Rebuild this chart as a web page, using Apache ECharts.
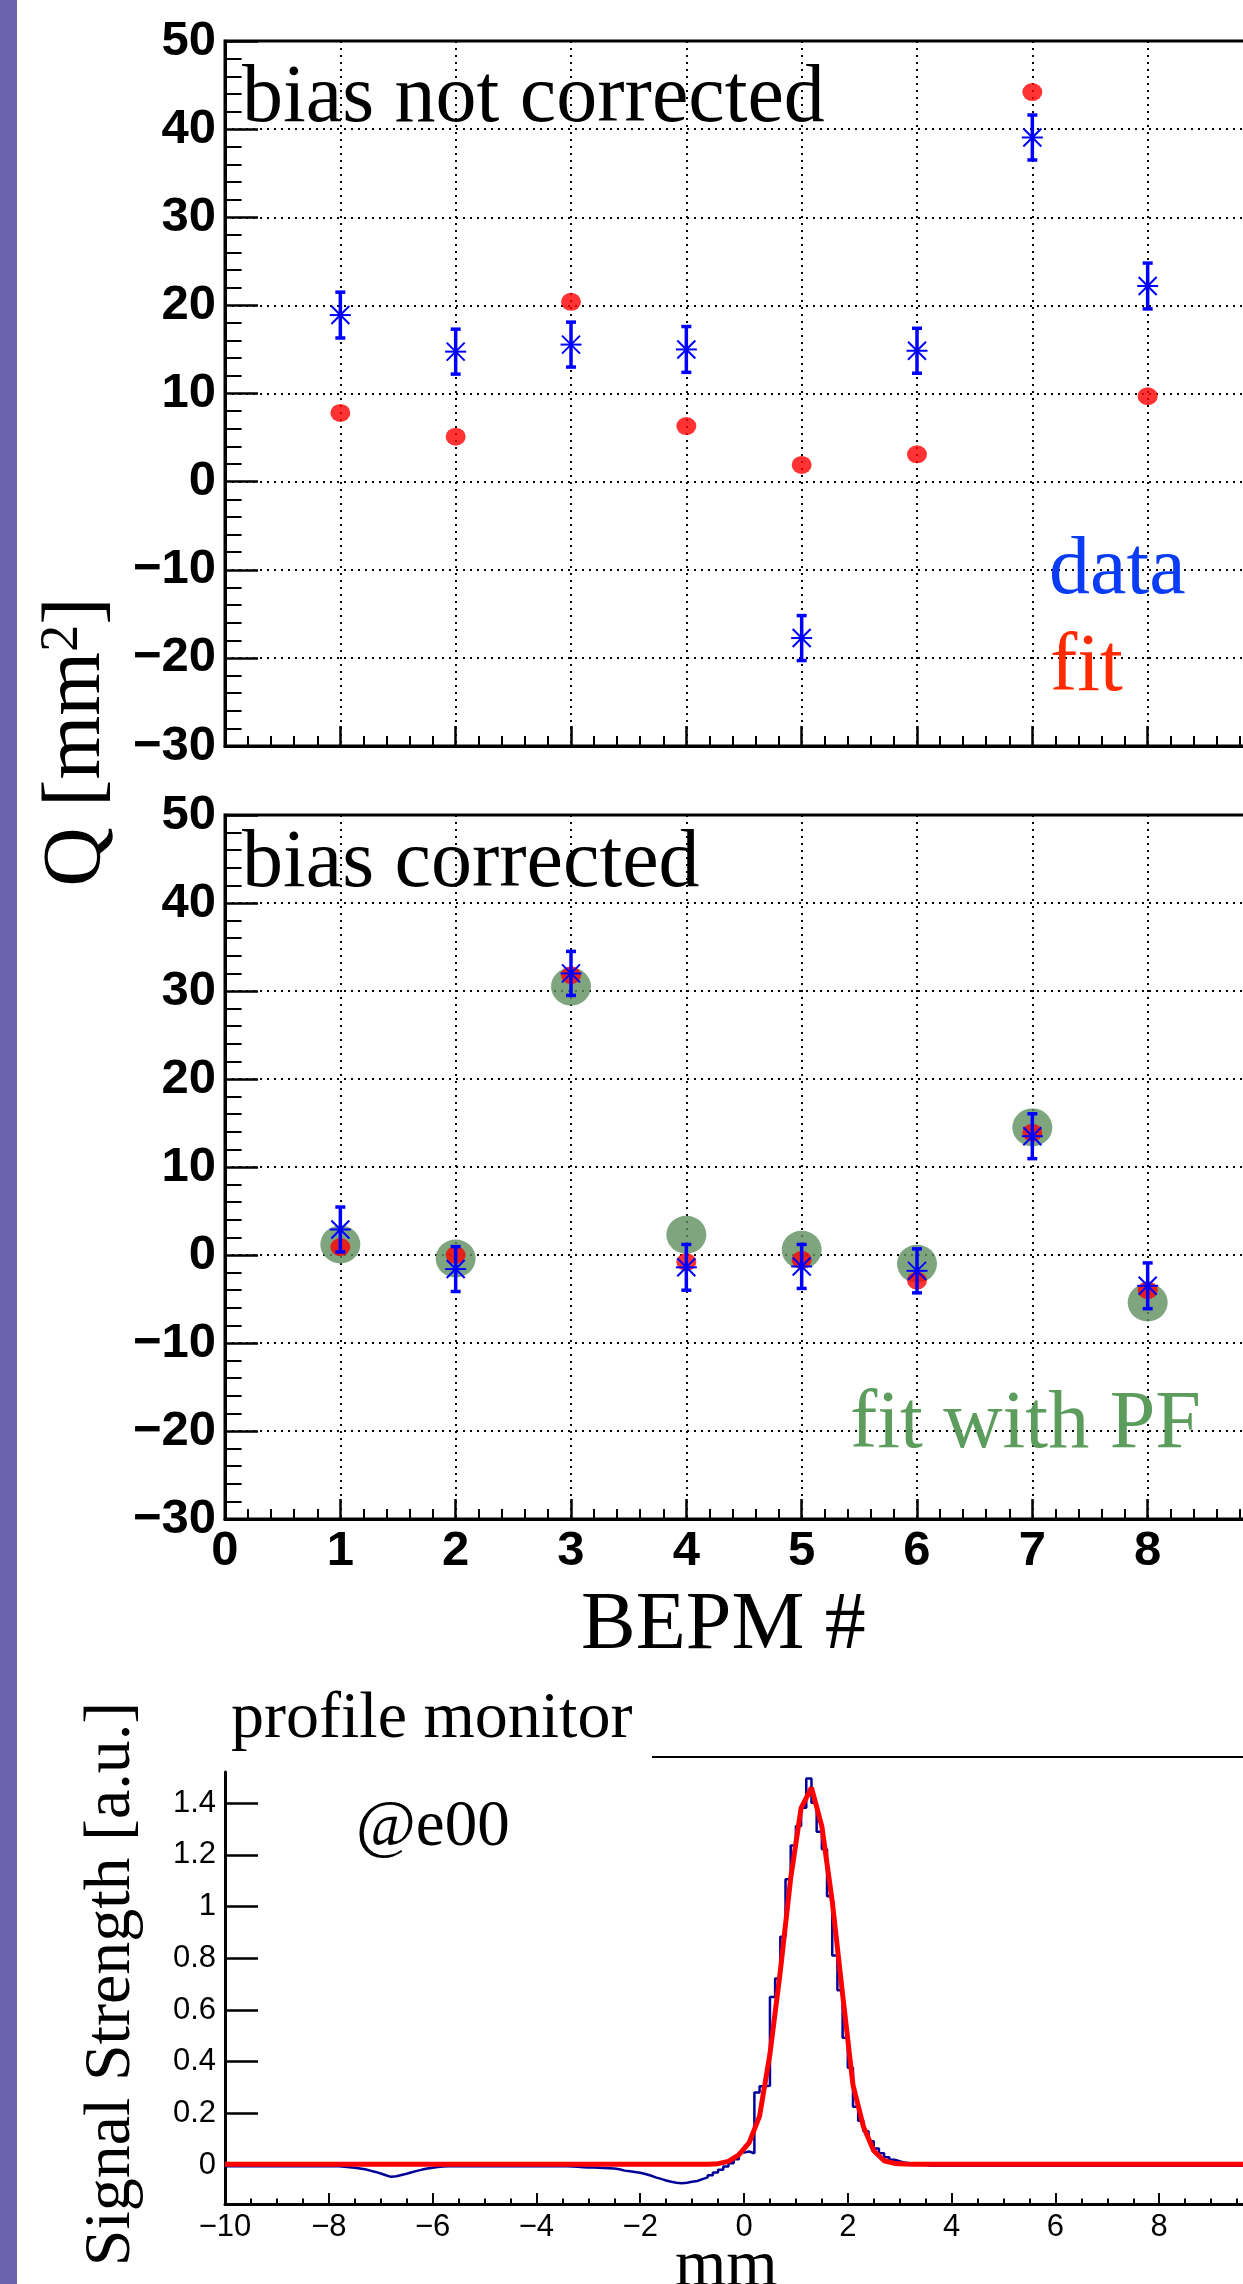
<!DOCTYPE html>
<html>
<head>
<meta charset="utf-8">
<script src="https://cdn.jsdelivr.net/npm/echarts@6/dist/echarts.min.js"></script>
<style>
html,body{margin:0;padding:0;background:#fff;}
#chart{width:1243px;height:2284px;}
</style>
</head>
<body>
<div id="chart"></div>
<script>
// ---------------- data ----------------
const bepm = [1, 2, 3, 4, 5, 6, 7, 8];
// panel 1: bias not corrected
const dataNC = [18.9, 14.75, 15.55, 15.0, -17.75, 14.85, 39.05, 22.2];
const errNC  = [2.6, 2.55, 2.55, 2.6, 2.55, 2.55, 2.55, 2.6];
const fitNC  = [7.8, 5.1, 20.4, 6.3, 1.9, 3.1, 44.2, 9.7];
// panel 2: bias corrected
const dataC  = [2.9, -1.6, 32.0, -1.4, -1.3, -1.8, 13.5, -3.5];
const errC   = [2.55, 2.55, 2.5, 2.6, 2.5, 2.5, 2.55, 2.6];
const fitC   = [0.9, 0.0, 31.8, -0.8, -0.55, -2.9, 13.9, -4.0];
const fitPF  = [1.2, -0.4, 30.5, 2.3, 0.6, -1.0, 14.5, -5.4];
// profile monitor histogram: 200 bins of 0.1 mm from -10 mm
const histStart = -10;
const histWidth = 0.1;
const histValues = [
  -0.004,-0.004,-0.004,-0.004,-0.004,-0.004,-0.004,-0.004,-0.004,-0.004,
  -0.004,-0.004,-0.004,-0.004,-0.004,-0.004,-0.004,-0.004,-0.004,-0.004,
  -0.004,-0.004,-0.006,-0.008,-0.010,-0.013,-0.016,-0.021,-0.026,-0.032,
  -0.039,-0.045,-0.043,-0.038,-0.033,-0.027,-0.022,-0.017,-0.013,-0.010,
  -0.007,-0.005,-0.004,-0.004,-0.004,-0.004,-0.004,-0.004,-0.004,-0.004,
  -0.004,-0.004,-0.004,-0.004,-0.004,-0.004,-0.004,-0.004,-0.004,-0.004,
  -0.004,-0.004,-0.004,-0.004,-0.004,-0.004,-0.005,-0.006,-0.008,-0.009,
  -0.009,-0.010,-0.011,-0.012,-0.013,-0.016,-0.021,-0.023,-0.026,-0.029,
  -0.034,-0.040,-0.047,-0.053,-0.059,-0.064,-0.068,-0.070,-0.068,-0.064,
  -0.061,-0.054,-0.047,-0.039,-0.028,-0.018,-0.005, 0.008, 0.023, 0.049,
   0.053, 0.046, 0.281, 0.305, 0.307, 0.650, 0.722, 0.883, 1.105, 1.236,
   1.311, 1.382, 1.495, 1.401, 1.289, 1.221, 1.040, 0.811, 0.676, 0.493,
   0.377, 0.226, 0.172, 0.131, 0.093, 0.065, 0.046, 0.031, 0.021, 0.015,
   0.010, 0.007, 0.004, 0.002, 0.001,-0.002,-0.002,-0.002,-0.002,-0.002,
  -0.002,-0.002,-0.002,-0.002,-0.002,-0.002,-0.002,-0.002,-0.002,-0.002,
  -0.002,-0.002,-0.002,-0.002,-0.002,-0.002,-0.002,-0.002,-0.002,-0.002,
  -0.002,-0.002,-0.002,-0.002,-0.002,-0.002,-0.002,-0.002,-0.002,-0.002,
  -0.002,-0.002,-0.002,-0.002,-0.002,-0.002,-0.002,-0.002,-0.002,-0.002,
  -0.002,-0.002,-0.002,-0.002,-0.002,-0.002,-0.002,-0.002,-0.002,-0.002,
  -0.002,-0.002,-0.002,-0.002,-0.002,-0.002,-0.002,-0.002,-0.002,-0.002
];
// gaussian fit curve sample points
const fitX = [-10, -0.7, -0.5, -0.3, -0.1, 0.1, 0.3, 0.5, 0.7, 0.9, 1.1, 1.3, 1.5, 1.7, 1.9, 2.1, 2.3, 2.5, 2.7, 2.9, 3.1, 3.3, 10];
const fitY = [0.004, 0.004, 0.006, 0.015, 0.040, 0.087, 0.19, 0.43, 0.75, 1.11, 1.38, 1.46, 1.31, 1.02, 0.66, 0.31, 0.15, 0.056, 0.017, 0.007, 0.005, 0.004, 0.004];
// tick labels
const profYTicks = [0, 0.2, 0.4, 0.6, 0.8, 1, 1.2, 1.4];
const profYMinorTicks = [];
for (let k = -3; k <= 30; k++) profYMinorTicks.push(Math.round(k * 5) / 100);

// ---------------- chart ----------------
const chart = echarts.init(document.getElementById('chart'), null, {renderer: 'canvas', width: 1243, height: 2284});

const fmt = v => (v < 0 ? '\u2212' + String(Math.round(-v * 1000) / 1000) : String(Math.round(v * 1000) / 1000));
const BLUE = '#0000ff';
const dotted = {type: [2, 5], color: '#000', width: 2};
const boldLbl = {fontFamily: 'Liberation Sans', fontWeight: 'bold', fontSize: 49, color: '#000', formatter: fmt};

function panelX(gi, showLabels) {
  return {
    gridIndex: gi, type: 'value', min: 0, max: 9, interval: 1,
    axisLine: {show: true, onZero: false, lineStyle: {color: '#000', width: 3}},
    axisTick: {show: true, inside: true, length: 20, lineStyle: {color: '#000', width: 2.5}},
    minorTick: {show: true, splitNumber: 5, length: 10, lineStyle: {color: '#000', width: 2}},
    axisLabel: Object.assign({show: showLabels, margin: 8}, boldLbl),
    splitLine: {show: true, lineStyle: dotted}
  };
}
function panelY(gi) {
  return {
    gridIndex: gi, type: 'value', min: -30, max: 50, interval: 10,
    axisLine: {show: true, onZero: false, lineStyle: {color: '#000', width: 3}},
    axisTick: {show: true, inside: true, length: 33, lineStyle: {color: '#000', width: 2.5}},
    minorTick: {show: true, splitNumber: 5, length: 16.6, lineStyle: {color: '#000', width: 2}},
    axisLabel: Object.assign({margin: 9}, boldLbl),
    splitLine: {show: true, lineStyle: dotted}
  };
}

function renderErr(params, api) {
  const x = api.value(0), y = api.value(1), e = api.value(2);
  const c = api.coord([x, y]);
  const t = api.coord([x, y + e]);
  const b = api.coord([x, y - e]);
  const cap = 5, s = 10.5, d = 9;
  const st = w => ({stroke: BLUE, lineWidth: w});
  return {
    type: 'group',
    children: [
      {type: 'line', shape: {x1: c[0], y1: t[1], x2: c[0], y2: b[1]}, style: st(3.5)},
      {type: 'line', shape: {x1: c[0] - cap, y1: t[1], x2: c[0] + cap, y2: t[1]}, style: st(3.5)},
      {type: 'line', shape: {x1: c[0] - cap, y1: b[1], x2: c[0] + cap, y2: b[1]}, style: st(3.5)},
      {type: 'line', shape: {x1: c[0] - s, y1: c[1], x2: c[0] + s, y2: c[1]}, style: st(2)},
      {type: 'line', shape: {x1: c[0] - d, y1: c[1] - d, x2: c[0] + d, y2: c[1] + d}, style: st(2)},
      {type: 'line', shape: {x1: c[0] - d, y1: c[1] + d, x2: c[0] + d, y2: c[1] - d}, style: st(2)}
    ]
  };
}

const histData = histValues.map((v, i) => [histStart + i * histWidth, v]);
histData.push([histStart + histValues.length * histWidth, histValues[histValues.length - 1]]);
const fitData = fitX.map((x, i) => [x, fitY[i]]);

function T(x, y, text, size, fill, extra) {
  return Object.assign({
    type: 'text', x: x, y: y, z: 50,
    style: {text: text, font: size + 'px "Liberation Serif"', fill: fill || '#000',
            align: 'left', verticalAlign: 'middle', textAlign: 'left', textVerticalAlign: 'middle'}
  }, extra || {});
}

const gridBase = {left: 225, width: 1038, outerBoundsMode: 'none', containLabel: false};
const option = {
  animation: false,
  backgroundColor: '#fff',
  grid: [
    Object.assign({top: 41, height: 705, show: true, borderColor: '#000', borderWidth: 3, backgroundColor: 'transparent'}, gridBase),
    Object.assign({top: 815, height: 704, show: true, borderColor: '#000', borderWidth: 3, backgroundColor: 'transparent'}, gridBase),
    Object.assign({top: 1772, height: 432}, gridBase)
  ],
  xAxis: [
    panelX(0, false),
    panelX(1, true),
    {
      gridIndex: 2, type: 'value', min: -10, max: 10, interval: 2,
      axisLine: {show: true, onZero: false, lineStyle: {color: '#000', width: 3}},
      axisTick: {show: true, inside: true, length: 11, lineStyle: {color: '#000', width: 2}},
      minorTick: {show: true, splitNumber: 4, length: 5.5, lineStyle: {color: '#000', width: 2}},
      axisLabel: {fontFamily: 'Liberation Sans', fontSize: 31, color: '#000', margin: 8, formatter: fmt},
      splitLine: {show: false}
    }
  ],
  yAxis: [
    panelY(0),
    panelY(1),
    {
      gridIndex: 2, type: 'value', min: -0.15, max: 1.52,
      axisLine: {show: true, onZero: false, lineStyle: {color: '#000', width: 3}},
      axisTick: {show: true, inside: true, length: 33, customValues: profYTicks, lineStyle: {color: '#000', width: 2.5}},
      axisLabel: {fontFamily: 'Liberation Sans', fontSize: 31, color: '#000', margin: 9, customValues: profYTicks, formatter: fmt},
      splitLine: {show: false}
    },
    {
      gridIndex: 2, type: 'value', min: -0.15, max: 1.52,
      axisLine: {show: false, onZero: false},
      axisTick: {show: true, inside: true, length: 16.6, customValues: profYMinorTicks, lineStyle: {color: '#000', width: 2}},
      axisLabel: {show: false},
      splitLine: {show: false}
    }
  ],
  series: [
    {type: 'scatter', xAxisIndex: 0, yAxisIndex: 0, z: 3, symbol: 'circle', symbolSize: [20, 18],
     itemStyle: {color: '#ff0000'}, data: bepm.map((x, i) => [x, fitNC[i]])},
    {type: 'custom', xAxisIndex: 0, yAxisIndex: 0, z: 4, renderItem: renderErr,
     data: bepm.map((x, i) => [x, dataNC[i], errNC[i]])},
    {type: 'scatter', xAxisIndex: 1, yAxisIndex: 1, z: 2, symbol: 'circle', symbolSize: [40, 38],
     itemStyle: {color: '#5f8f5f'}, data: bepm.map((x, i) => [x, fitPF[i]])},
    {type: 'scatter', xAxisIndex: 1, yAxisIndex: 1, z: 3, symbol: 'circle', symbolSize: [20, 18],
     itemStyle: {color: '#ff0000'}, data: bepm.map((x, i) => [x, fitC[i]])},
    {type: 'custom', xAxisIndex: 1, yAxisIndex: 1, z: 4, renderItem: renderErr,
     data: bepm.map((x, i) => [x, dataC[i], errC[i]])},
    {type: 'line', xAxisIndex: 2, yAxisIndex: 2, z: 3, step: 'end', showSymbol: false, symbol: 'none',
     lineStyle: {color: '#000099', width: 2.5}, data: histData},
    {type: 'line', xAxisIndex: 2, yAxisIndex: 2, z: 4, showSymbol: false, symbol: 'none', smooth: false,
     lineStyle: {color: '#ff0000', width: 5}, data: fitData}
  ],
  graphic: [
    {type: 'rect', z: 60, shape: {x: 0, y: 0, width: 17, height: 2284}, style: {fill: '#6c63ae'}},
    T(242, 99.3, 'bias not corrected', 82),
    T(1049, 571.8, 'data', 82, '#0a3cf5'),
    T(1050, 668.8, 'fit', 82, '#ff2a00'),
    T(242, 864.3, 'bias corrected', 82),
    T(850, 1425.8, 'fit with PF', 82, '#5c9c5c'),
    T(581, 1626.3, 'BEPM #', 82),
    T(231, 1719.4, 'profile monitor', 66),
    T(356, 1827.5, '@e00', 65),
    T(675, 2267.7, 'mm', 66),
    {type: 'line', z: 50, shape: {x1: 652, y1: 1757, x2: 1243, y2: 1757}, style: {stroke: '#000', lineWidth: 2}},
    {type: 'text', x: 111.4, y: 1984, rotation: Math.PI / 2, z: 50,
     style: {text: 'Signal Strength [a.u.]', font: '66px "Liberation Serif"', fill: '#000',
             align: 'center', verticalAlign: 'middle', textAlign: 'center', textVerticalAlign: 'middle'}},
    {type: 'text', x: 77.3, y: 742, rotation: Math.PI / 2, z: 50,
     style: {text: '{n|Q [mm}{s|2}{n|]}', fill: '#000',
             rich: {n: {font: '82px "Liberation Serif"', fill: '#000'},
                    s: {font: '54px "Liberation Serif"', fill: '#000', verticalAlign: 'top'}},
             align: 'center', verticalAlign: 'middle', textAlign: 'center', textVerticalAlign: 'middle'}}
  ]
};
chart.setOption(option);
</script>
</body>
</html>
